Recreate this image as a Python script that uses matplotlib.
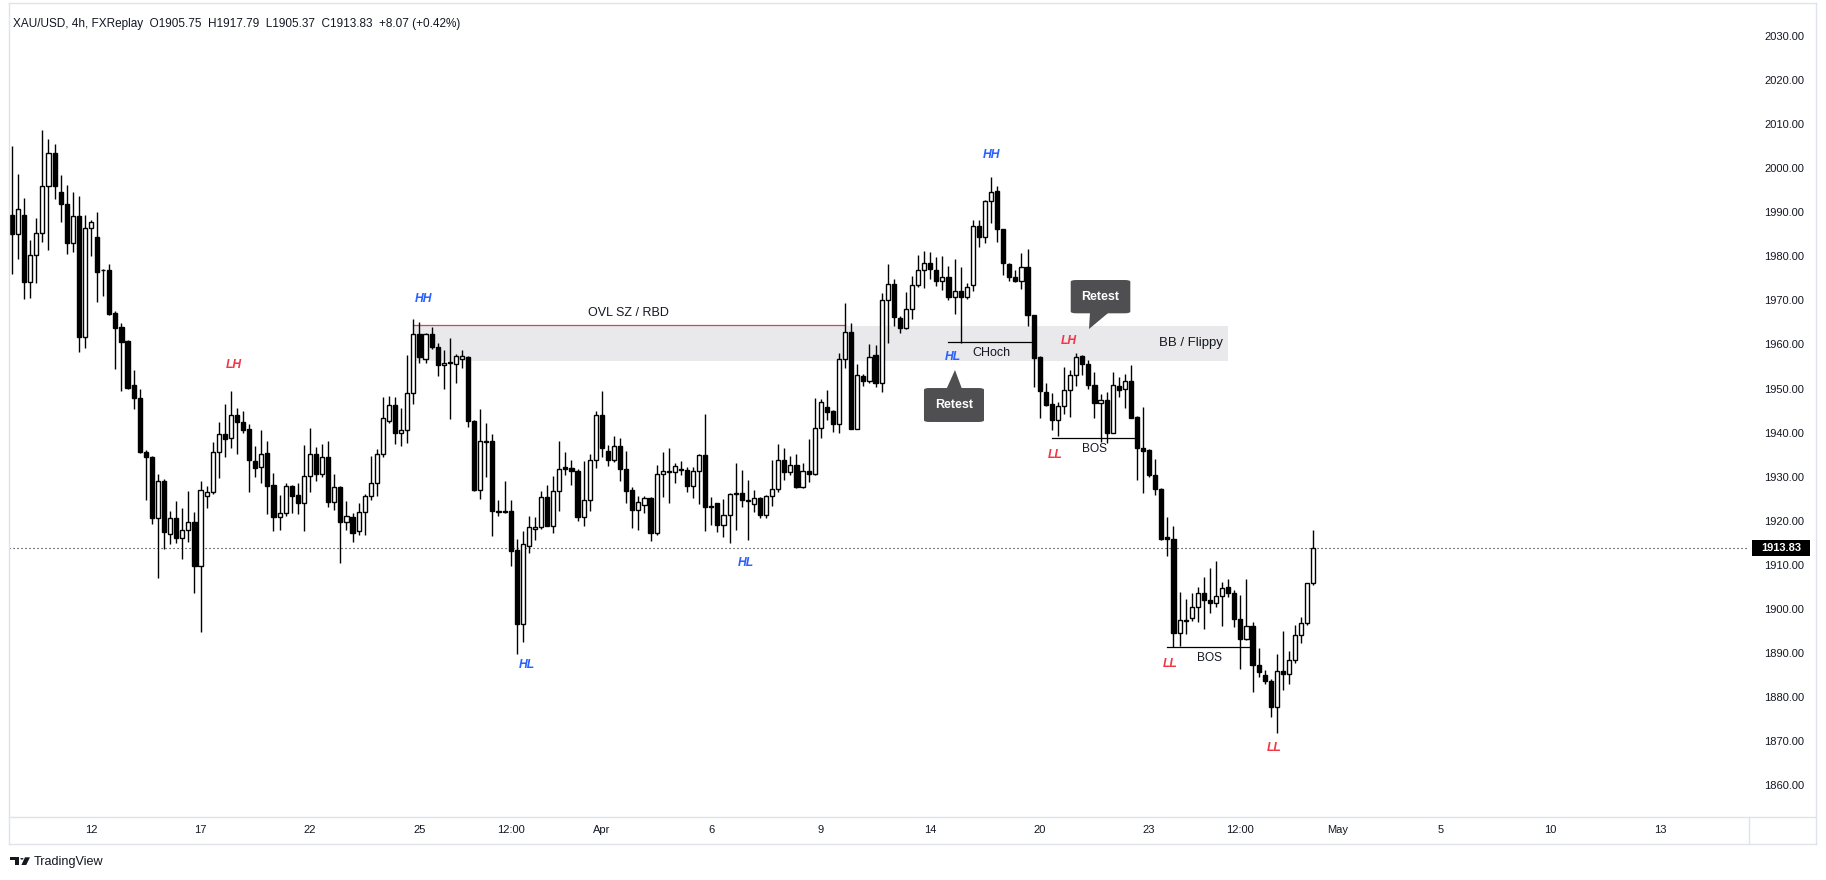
import numpy as np
import matplotlib
matplotlib.use('Agg')
import matplotlib.pyplot as plt
from matplotlib.patches import Rectangle, FancyBboxPatch, Polygon, Circle
from matplotlib.lines import Line2D
from matplotlib.transforms import blended_transform_factory

# ---------------- data (XAU/USD 4h candles) ----------------
opens = [1989.5, 1985.0, 1989.5, 1974.2, 1980.2, 1985.4, 1995.9, 2003.4, 1994.6, 1991.8,
         1983.1, 1989.1, 1961.6, 1986.4, 1984.3, 1977.0, 1977.0, 1967.1, 1963.9, 1960.7,
         1950.9, 1947.8, 1935.6, 1934.4, 1920.5, 1929.0, 1916.9, 1920.5, 1916.1, 1917.8,
         1919.6, 1909.6, 1925.5, 1926.6, 1935.5, 1939.6, 1938.7, 1943.9, 1942.5, 1940.7,
         1933.5, 1932.1, 1935.3, 1928.0, 1920.9, 1921.7, 1927.9, 1925.8, 1924.1, 1930.1,
         1935.1, 1930.7, 1934.5, 1924.2, 1927.6, 1919.6, 1920.8, 1917.6, 1921.9, 1925.5,
         1928.5, 1935.1, 1942.6, 1946.2, 1939.8, 1940.5, 1948.9, 1962.3, 1956.6, 1962.3,
         1959.5, 1955.3, 1956.0, 1955.5, 1956.6, 1957.2, 1942.6, 1927.0, 1938.1, 1938.0,
         1922.1, 1922.2, 1922.1, 1913.3, 1896.6, 1914.3, 1918.2, 1918.6, 1925.3, 1918.9,
         1926.7, 1932.1, 1931.9, 1931.2, 1920.8, 1924.8, 1933.7, 1943.9, 1935.7, 1933.7,
         1937.0, 1931.7, 1926.9, 1922.5, 1923.6, 1925.1, 1917.1, 1930.7, 1931.3, 1931.0,
         1931.8, 1931.6, 1927.9, 1931.2, 1934.8, 1923.3, 1923.9, 1919.1, 1921.2, 1926.0,
         1926.2, 1924.7, 1923.7, 1925.1, 1921.2, 1925.7, 1927.3, 1933.8, 1931.0, 1932.6,
         1927.7, 1931.2, 1930.7, 1941.0, 1945.8, 1944.9, 1941.9, 1956.6, 1962.9, 1940.9,
         1952.8, 1951.8, 1957.5, 1951.2, 1970.0, 1973.7, 1965.9, 1963.7, 1968.0, 1973.4,
         1977.0, 1978.6, 1976.8, 1974.5, 1975.3, 1970.8, 1972.1, 1970.7, 1973.6, 1987.0,
         1984.5, 1992.6, 1994.8, 1986.1, 1978.3, 1975.4, 1974.3, 1977.6, 1966.6, 1957.1,
         1949.2, 1946.4, 1942.8, 1946.1, 1949.6, 1953.0, 1957.4, 1955.5, 1950.7, 1946.6,
         1947.3, 1940.0, 1950.6, 1949.8, 1951.8, 1943.6, 1936.6, 1936.0, 1930.4, 1927.3,
         1916.2, 1915.9, 1894.4, 1897.5, 1897.8, 1900.5, 1903.5, 1902.1, 1901.2, 1902.8,
         1904.9, 1903.5, 1897.6, 1893.1, 1896.0, 1887.2, 1884.9, 1883.6, 1877.8, 1885.9,
         1885.1, 1888.3, 1894.0, 1896.8, 1905.75]
highs = [2005.1, 1998.7, 1993.2, 1983.7, 1988.7, 2008.7, 2006.6, 2005.5, 1998.4, 1996.1,
         1994.6, 1993.6, 1989.5, 1988.2, 1990.1, 1977.2, 1978.3, 1967.6, 1964.9, 1961.0,
         1954.2, 1950.0, 1936.0, 1934.7, 1930.5, 1929.4, 1922.2, 1924.5, 1922.8, 1926.7,
         1921.9, 1929.0, 1927.9, 1937.8, 1942.3, 1946.4, 1949.4, 1945.5, 1944.8, 1941.9,
         1936.9, 1940.6, 1938.1, 1930.8, 1925.8, 1928.6, 1928.1, 1928.5, 1937.2, 1941.0,
         1936.7, 1937.5, 1938.0, 1930.6, 1927.9, 1924.4, 1921.7, 1923.9, 1926.0, 1934.7,
         1936.3, 1948.1, 1948.2, 1948.1, 1945.5, 1957.5, 1965.8, 1965.2, 1962.5, 1963.9,
         1960.3, 1958.7, 1961.5, 1957.8, 1958.7, 1957.4, 1942.9, 1945.4, 1942.2, 1939.7,
         1924.7, 1929.0, 1924.7, 1915.8, 1917.7, 1921.1, 1920.9, 1926.8, 1928.1, 1930.2,
         1938.0, 1935.5, 1933.8, 1931.7, 1933.5, 1935.2, 1944.9, 1949.4, 1937.2, 1939.2,
         1938.7, 1935.9, 1927.7, 1925.7, 1925.7, 1925.3, 1932.6, 1935.5, 1936.6, 1933.1,
         1933.5, 1932.1, 1932.1, 1935.1, 1944.2, 1925.4, 1924.1, 1924.9, 1926.2, 1933.1,
         1931.5, 1929.2, 1927.0, 1925.3, 1925.9, 1933.8, 1937.4, 1936.4, 1934.6, 1935.1,
         1933.0, 1938.5, 1947.8, 1947.6, 1949.7, 1945.1, 1958.0, 1969.3, 1964.8, 1955.6,
         1953.4, 1960.1, 1959.9, 1971.6, 1978.3, 1974.8, 1966.5, 1972.0, 1975.6, 1980.2,
         1981.2, 1981.0, 1979.8, 1980.1, 1977.9, 1979.4, 1977.6, 1974.0, 1988.2, 1988.2,
         1992.8, 1998.1, 1996.0, 1986.3, 1978.6, 1976.8, 1980.7, 1981.7, 1966.8, 1957.3,
         1951.3, 1948.9, 1946.9, 1954.8, 1954.2, 1958.0, 1957.6, 1956.5, 1953.7, 1948.7,
         1949.2, 1953.7, 1952.5, 1953.3, 1955.3, 1943.8, 1945.9, 1936.2, 1933.9, 1927.5,
         1920.9, 1918.9, 1903.7, 1902.3, 1903.5, 1905.0, 1907.2, 1909.3, 1910.8, 1906.1,
         1906.8, 1904.3, 1903.1, 1906.7, 1896.9, 1891.2, 1886.1, 1884.0, 1889.7, 1895.0,
         1890.4, 1896.3, 1898.1, 1905.9, 1917.79]
lows = [1975.9, 1979.3, 1970.4, 1970.6, 1974.0, 1983.2, 1981.5, 1993.1, 1987.9, 1980.6,
        1981.1, 1958.4, 1959.3, 1980.1, 1969.7, 1971.1, 1966.8, 1954.5, 1949.5, 1950.0,
        1945.4, 1935.4, 1924.8, 1919.2, 1906.9, 1913.5, 1914.8, 1915.0, 1911.4, 1915.2,
        1903.6, 1894.8, 1922.9, 1926.0, 1929.7, 1934.5, 1936.6, 1935.2, 1940.0, 1926.6,
        1929.8, 1928.6, 1921.6, 1917.7, 1917.9, 1921.0, 1921.8, 1921.4, 1917.7, 1926.6,
        1929.1, 1930.0, 1923.2, 1922.4, 1910.5, 1917.9, 1915.2, 1916.8, 1916.8, 1924.8,
        1925.7, 1934.5, 1942.1, 1937.5, 1937.0, 1937.7, 1946.4, 1955.9, 1955.9, 1959.0,
        1952.9, 1949.8, 1943.0, 1951.3, 1954.6, 1941.3, 1926.8, 1925.0, 1930.0, 1916.6,
        1921.1, 1921.7, 1909.8, 1889.7, 1892.5, 1912.6, 1915.6, 1918.2, 1918.7, 1917.1,
        1922.3, 1930.3, 1928.0, 1920.0, 1918.9, 1922.3, 1932.0, 1934.5, 1932.3, 1933.3,
        1929.0, 1923.9, 1918.4, 1917.8, 1921.7, 1915.3, 1916.7, 1925.3, 1924.1, 1928.6,
        1930.4, 1926.4, 1925.2, 1923.8, 1917.7, 1919.1, 1917.5, 1916.4, 1914.9, 1917.9,
        1923.2, 1915.5, 1922.0, 1920.6, 1920.5, 1923.4, 1926.4, 1929.3, 1930.3, 1927.5,
        1927.5, 1928.8, 1930.4, 1938.7, 1942.8, 1940.1, 1939.8, 1954.7, 1940.7, 1940.7,
        1950.6, 1951.3, 1950.3, 1949.2, 1960.4, 1964.2, 1962.5, 1963.4, 1965.8, 1973.0,
        1972.8, 1974.8, 1973.3, 1972.4, 1970.1, 1967.0, 1960.4, 1970.4, 1972.2, 1982.2,
        1983.0, 1987.5, 1983.3, 1975.8, 1974.3, 1974.1, 1972.7, 1964.2, 1950.3, 1943.4,
        1946.0, 1940.6, 1939.2, 1944.2, 1943.6, 1950.6, 1953.1, 1950.0, 1943.2, 1937.9,
        1937.7, 1939.8, 1948.1, 1945.6, 1943.2, 1929.2, 1926.3, 1930.0, 1925.8, 1915.7,
        1912.0, 1891.4, 1891.6, 1894.3, 1897.3, 1897.1, 1895.4, 1899.0, 1900.3, 1896.2,
        1902.7, 1895.8, 1886.4, 1892.9, 1881.2, 1884.6, 1883.0, 1875.5, 1871.9, 1881.6,
        1882.9, 1887.6, 1892.3, 1896.3, 1905.37]
closes = [1985.0, 1990.7, 1974.2, 1980.2, 1985.4, 1995.9, 2003.4, 1996.0, 1991.8, 1983.1,
          1989.1, 1961.6, 1986.4, 1987.9, 1976.5, 1976.8, 1967.0, 1963.8, 1960.6, 1950.1,
          1947.8, 1935.6, 1934.4, 1920.5, 1929.0, 1917.5, 1920.5, 1916.1, 1917.8, 1919.6,
          1909.6, 1927.0, 1926.4, 1935.5, 1939.6, 1938.5, 1943.9, 1942.3, 1940.6, 1933.7,
          1932.0, 1935.1, 1927.9, 1920.9, 1921.7, 1927.9, 1925.7, 1924.1, 1930.1, 1935.1,
          1930.7, 1934.5, 1924.2, 1927.6, 1919.6, 1921.0, 1917.3, 1921.9, 1925.5, 1928.5,
          1935.1, 1943.2, 1946.2, 1939.8, 1940.5, 1948.9, 1962.3, 1957.2, 1962.3, 1959.5,
          1955.3, 1955.7, 1955.7, 1957.3, 1957.3, 1942.7, 1927.0, 1938.0, 1937.9, 1922.1,
          1922.0, 1922.0, 1913.2, 1896.6, 1914.8, 1918.6, 1918.6, 1925.3, 1918.9, 1926.7,
          1931.7, 1931.8, 1931.2, 1920.8, 1924.8, 1933.7, 1943.9, 1936.4, 1933.7, 1937.0,
          1931.7, 1926.8, 1922.5, 1924.3, 1925.2, 1917.1, 1930.7, 1931.2, 1931.1, 1932.3,
          1931.6, 1927.9, 1931.2, 1934.8, 1923.0, 1923.0, 1919.1, 1921.2, 1926.0, 1926.2,
          1924.6, 1924.5, 1925.1, 1921.2, 1925.7, 1927.3, 1933.8, 1931.1, 1932.6, 1927.7,
          1931.2, 1930.7, 1941.0, 1946.9, 1944.7, 1941.9, 1956.6, 1962.9, 1940.9, 1953.0,
          1951.8, 1957.2, 1951.2, 1970.0, 1973.7, 1966.2, 1963.7, 1968.0, 1973.4, 1977.0,
          1978.6, 1977.2, 1974.5, 1975.3, 1970.8, 1972.1, 1970.7, 1973.0, 1987.0, 1984.3,
          1992.6, 1994.5, 1986.1, 1978.4, 1975.2, 1974.3, 1977.6, 1966.6, 1957.0, 1949.5,
          1946.2, 1942.8, 1946.1, 1949.6, 1953.0, 1957.1, 1955.5, 1950.7, 1946.6, 1947.3,
          1940.0, 1950.9, 1949.7, 1951.8, 1943.4, 1936.6, 1935.9, 1930.4, 1927.3, 1915.9,
          1915.9, 1894.4, 1897.4, 1897.3, 1900.3, 1903.5, 1902.1, 1901.4, 1902.8, 1904.6,
          1903.5, 1897.6, 1893.1, 1896.0, 1887.2, 1885.6, 1883.6, 1877.8, 1885.9, 1885.1,
          1888.3, 1894.0, 1896.8, 1905.76, 1913.83]

time_tick_pos = [13, 31, 49, 67, 82, 97, 115, 133, 151, 169, 187, 202, 218, 235, 253, 271]
time_tick_labels = ['12', '17', '22', '25', '12:00', 'Apr', '6', '9', '14', '20', '23',
                    '12:00', 'May', '5', '10', '13']
price_ticks = list(range(1860, 2031, 10))

# swing labels: (text, candle index, price, kind)
swing_labels = [('LH', 36.5, 1955.4, 'red'), ('HH', 67.7, 1970.3, 'blue'),
                ('HL', 84.6, 1887.2, 'blue'), ('HL', 120.6, 1910.5, 'blue'),
                ('HH', 161.0, 2003.0, 'blue'), ('HL', 154.7, 1957.1, 'blue'),
                ('LH', 173.8, 1960.8, 'red'), ('LL', 171.6, 1934.9, 'red'),
                ('LL', 190.5, 1887.5, 'red'), ('LL', 207.6, 1868.5, 'red')]

# ---------------- figure ----------------
FONT = 'Liberation Sans'
plt.rcParams['font.family'] = [FONT, 'DejaVu Sans']
TXT = '#131722'
RED = '#f23645'
BLUE = '#2962ff'
FRAME = '#e0e3eb'

W, H = 1826, 880
fig = plt.figure(figsize=(W / 100, H / 100), dpi=100)
fig.patch.set_facecolor('white')


def fx(px):
    return px / W


def fy(py):
    return 1 - py / H


ax_l, ax_r, ax_t, ax_b = 9.3, 1749.0, 3.5, 817.3
ax = fig.add_axes([fx(ax_l), fy(ax_b), (ax_r - ax_l) / W, (ax_b - ax_t) / H])
ax.set_facecolor('white')
ax.set_xlim(-0.444, 285.64)
ax.set_ylim(1852.66, 2037.40)
for s in ax.spines.values():
    s.set_visible(False)

o = np.array(opens)
h = np.array(highs)
l = np.array(lows)
c = np.array(closes)
x = np.arange(len(o))
up = c >= o

ax.vlines(x, np.minimum(l, np.minimum(o, c)), np.maximum(h, np.maximum(o, c)),
          color='black', lw=1.0, zorder=3)
body_b = np.minimum(o, c)
body_h = np.maximum(np.abs(c - o), 0.12)
ax.bar(x[up], body_h[up], bottom=body_b[up], width=0.68, facecolor='white',
       edgecolor='black', lw=1.0, zorder=4)
ax.bar(x[~up], body_h[~up], bottom=body_b[~up], width=0.68, facecolor='black',
       edgecolor='black', lw=1.0, zorder=4)

# supply / flip zone
ax.add_patch(Rectangle((66, 1956.3), 200 - 66, 8.0, facecolor='#e9e9ec',
                       edgecolor='none', zorder=1))
ax.plot([66, 137], [1964.4, 1964.4], color='#e0404a', lw=0.9, zorder=2)
ax.text(101.4, 1967.1, 'OVL SZ / RBD', fontsize=9, color=TXT, ha='center', va='center', zorder=6)
ax.text(199.2, 1960.3, 'BB / Flippy', fontsize=9.5, color=TXT, ha='right', va='center', zorder=6)

# structure lines
ax.plot([154.0, 167.7], [1960.55, 1960.55], color='black', lw=0.9, zorder=5)
ax.text(161.1, 1958.0, 'CHoch', fontsize=9, color=TXT, ha='center', va='center', zorder=6)
ax.plot([171.0, 185.0], [1938.7, 1938.7], color='black', lw=0.9, zorder=5)
ax.text(178.0, 1936.2, 'BOS', fontsize=8.6, color=TXT, ha='center', va='center', zorder=6)
ax.plot([190.0, 203.7], [1891.24, 1891.24], color='black', lw=0.9, zorder=5)
ax.text(197.0, 1888.9, 'BOS', fontsize=8.6, color=TXT, ha='center', va='center', zorder=6)

for txt, xi, yp, kind in swing_labels:
    ax.text(xi, yp, txt, fontsize=8.7, fontweight='bold', fontstyle='italic',
            color=RED if kind == 'red' else BLUE, ha='center', va='center', zorder=6)

# callouts
CALL = '#4f4f51'


def callout(x0, x1, y0, y1, tri):
    ax.add_patch(FancyBboxPatch((x0, y0), x1 - x0, y1 - y0,
                                boxstyle='round,pad=0,rounding_size=0.9',
                                mutation_aspect=0.45,
                                facecolor=CALL, edgecolor='none', zorder=7))
    ax.add_patch(Polygon(tri, closed=True, facecolor=CALL, edgecolor='none', zorder=7))
    ax.text((x0 + x1) / 2, (y0 + y1) / 2, 'Retest', fontsize=9, fontweight='bold',
            color='white', ha='center', va='center', zorder=8)


callout(149.97, 159.84, 1942.40, 1950.11,
        [(153.7, 1950.0), (156.2, 1950.0), (155.07, 1954.2)])
callout(174.1, 183.9, 1967.07, 1974.63,
        [(177.27, 1967.2), (180.3, 1967.2), (177.1, 1963.5)])

# last price line and label
last_price = closes[-1]
ax.axhline(last_price, color=TXT, lw=0.8, ls=(0, (1, 2.6)), zorder=2)
bt = blended_transform_factory(ax.transAxes, ax.transData)
ax.add_patch(Rectangle((1.00155, last_price - 1.88), 0.0336, 3.76, transform=bt,
                       facecolor='black', edgecolor='none', clip_on=False, zorder=10))
ax.text(1.0184, last_price, f'{last_price:.2f}', transform=bt, color='white',
        fontweight='bold', fontsize=8, ha='center', va='center', zorder=11, clip_on=False)

# axes ticks
ax.yaxis.tick_right()
ax.set_yticks(price_ticks)
ax.set_yticklabels([f'{p:.2f}' for p in price_ticks])
ax.tick_params(axis='y', length=0, pad=10.8, labelsize=8, labelcolor=TXT)
ax.set_xticks(time_tick_pos)
ax.set_xticklabels(time_tick_labels)
ax.tick_params(axis='x', length=0, pad=5.5, labelsize=8, labelcolor=TXT)

# header
chg = closes[-1] - closes[-2]
header = (f'XAU/USD, 4h, FXReplay  O{opens[-1]:.2f}  H{highs[-1]:.2f}  L{lows[-1]:.2f}  '
          f'C{closes[-1]:.2f}  +{chg:.2f} (+{chg / closes[-2] * 100:.2f}%)')
fig.text(fx(13.3), fy(24.5), header, fontsize=8.5, color=TXT, ha='left', va='center')

# frame
def fline(x0, y0, x1, y1, lw=1.0):
    fig.add_artist(Line2D([fx(x0), fx(x1)], [fy(y0), fy(y1)], color=FRAME, lw=lw))

fline(9.3, 3.5, 1816, 3.5)
fline(9.3, 3.5, 9.3, 844.3)
fline(1816, 3.5, 1816, 844.3)
fline(9.3, 844.3, 1816, 844.3)
fline(9.3, 817.3, 1816, 817.3)
fline(1749, 817.3, 1749, 844.3)

# TradingView logo
def fpoly(pts, color='#131722'):
    fig.add_artist(Polygon([(fx(px), fy(py)) for px, py in pts], closed=True,
                           facecolor=color, edgecolor='none', transform=fig.transFigure))

fpoly([(10, 857.3), (19.3, 857.3), (19.3, 865), (14.7, 865), (14.7, 860.3), (10, 860.3)])
fig.add_artist(Circle((fx(21.9), fy(858.8)), 1.6 / W, transform=fig.transFigure,
                      facecolor='#131722', edgecolor='none'))
fpoly([(25.0, 857.3), (30.0, 857.3), (26.2, 865), (21.4, 865)])
fig.text(fx(33.3), fy(862), 'TradingView', fontsize=9.1, color=TXT, ha='left', va='center')

fig.savefig('out.png', dpi=100, facecolor='white')
